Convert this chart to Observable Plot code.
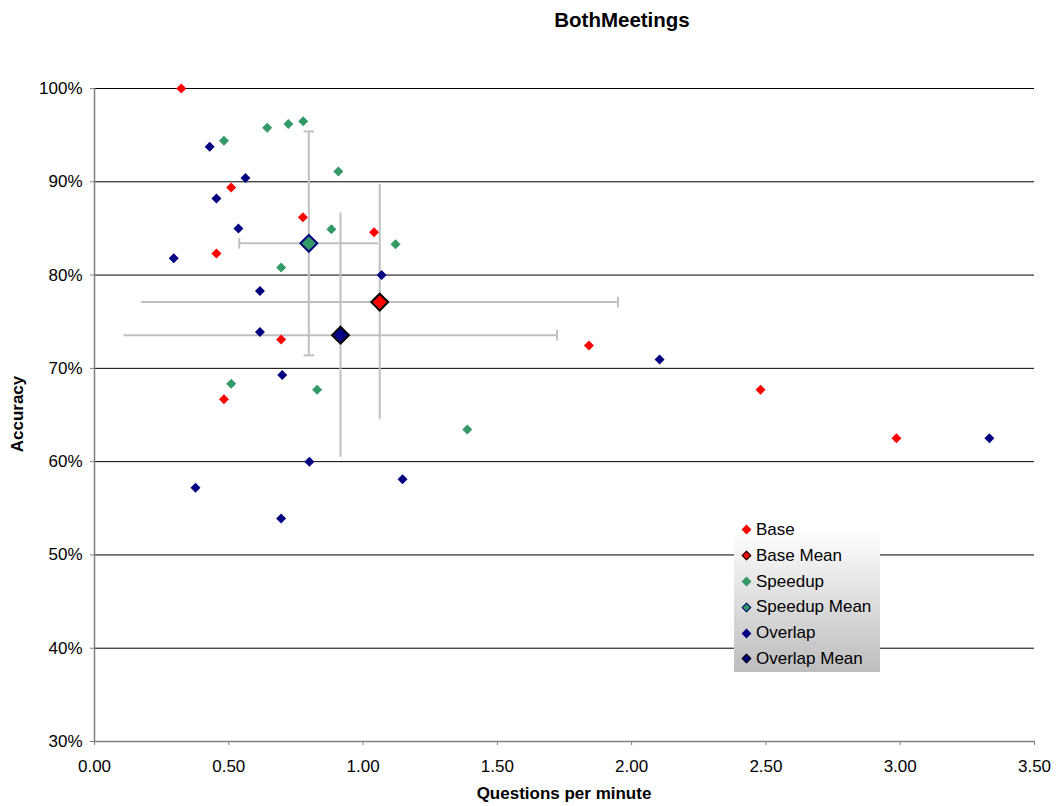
<!DOCTYPE html>
<html>
<head>
<meta charset="utf-8">
<script src="https://cdn.jsdelivr.net/npm/d3@7"></script>
<script src="https://cdn.jsdelivr.net/npm/@observablehq/plot@0.6"></script>
<style>
  html, body { margin: 0; padding: 0; background: #fff; }
  body { font-family: "Liberation Sans", Arial, sans-serif; }
  #wrap { position: relative; width: 1056px; height: 806px; overflow: hidden; }
  #title { position: absolute; top: 0; left: 622px; transform: translateX(-50%); height: 40px; line-height: 40px; font-weight: bold; font-size: 20.5px; white-space: nowrap; }
  #chart { position: absolute; top: 40px; left: 0; }
  #xlabel { position: absolute; top: 784px; left: 564px; transform: translateX(-50%); font-weight: bold; font-size: 17px; white-space: nowrap; line-height: 20px; }
  #ylabel { position: absolute; left: 18px; top: 414px; transform: translate(-50%, -50%) rotate(-90deg); font-weight: bold; font-size: 17px; white-space: nowrap; line-height: 20px; }
  #legend { position: absolute; left: 734px; top: 517px; width: 146px; height: 155px; background: linear-gradient(to bottom, #ffffff 0%, #ffffff 8%, #bdbdbd 100%); }
  .li { position: relative; height: 25.8px; line-height: 25.8px; font-size: 17px; white-space: nowrap; }
  .li .mk { position: absolute; left: 8.5px; top: 9.4px; width: 7px; height: 7px; transform: rotate(45deg); box-sizing: border-box; }
  .li .tx { position: absolute; left: 22px; top: 0; }
</style>
</head>
<body>
<div id="wrap">
  <div id="title">BothMeetings</div>
  <div id="chart"></div>
  <div id="xlabel">Questions per minute</div>
  <div id="ylabel">Accuracy</div>
  <div id="legend"></div>
</div>
<script>
// ---- data ----
const baseX = [0.323, 0.509, 0.454, 0.776, 1.041, 0.695, 0.482, 1.841, 2.480, 2.986];
const baseY = [1.000, 0.894, 0.823, 0.862, 0.846, 0.731, 0.667, 0.7245, 0.677, 0.625];

const speedupX = [0.643, 0.722, 0.777, 0.482, 0.908, 0.882, 1.121, 0.695, 0.509, 0.829, 1.388];
const speedupY = [0.958, 0.962, 0.965, 0.944, 0.911, 0.849, 0.833, 0.808, 0.6835, 0.677, 0.6345];

const overlapX = [0.429, 0.562, 0.454, 0.536, 0.295, 1.069, 0.616, 0.616, 0.699, 2.104, 0.800, 1.147, 0.376, 0.695, 3.332];
const overlapY = [0.9375, 0.904, 0.882, 0.850, 0.818, 0.800, 0.783, 0.739, 0.693, 0.7095, 0.600, 0.581, 0.572, 0.539, 0.625];

const meanNames = ["Base Mean", "Speedup Mean", "Overlap Mean"];
const meanX = [1.062, 0.798, 0.916];
const meanY = [0.771, 0.834, 0.7356];
const meanErrX = [0.887, 0.259, 0.806];
const meanErrY = [0.126, 0.120, 0.131];
const meanCaps = [["right"], ["left", "top", "bottom"], ["right"]];

const seriesNames = ["Base", "Speedup", "Overlap"];
const seriesColors = ["#ff0000", "#339966", "#000080"];
const meanStrokes = ["#000000", "#000080", "#000000"];

const xTicks = [0, 0.5, 1, 1.5, 2, 2.5, 3, 3.5];
const yTicks = [0.3, 0.4, 0.5, 0.6, 0.7, 0.8, 0.9, 1.0];

// ---- build tables ----
const pts = (xs, ys) => xs.map((x, i) => ({x, y: ys[i]}));
const seriesPts = [pts(baseX, baseY), pts(speedupX, speedupY), pts(overlapX, overlapY)];
const means = meanNames.map((name, i) => ({
  name, x: meanX[i], y: meanY[i], ex: meanErrX[i], ey: meanErrY[i],
  fill: seriesColors[i], stroke: meanStrokes[i]
}));
const capsV = [], capsH = [];
means.forEach((m, i) => {
  meanCaps[i].forEach(end => {
    if (end === "left") capsV.push({x: m.x - m.ex, y: m.y});
    if (end === "right") capsV.push({x: m.x + m.ex, y: m.y});
    if (end === "top") capsH.push({x: m.x, y: m.y + m.ey});
    if (end === "bottom") capsH.push({x: m.x, y: m.y - m.ey});
  });
});

const capVertical = {draw(ctx, size) { const h = Math.sqrt(size / Math.PI); ctx.moveTo(0, -h); ctx.lineTo(0, h); }};
const capHorizontal = {draw(ctx, size) { const h = Math.sqrt(size / Math.PI); ctx.moveTo(-h, 0); ctx.lineTo(h, 0); }};

const errColor = "#c0c0c0";
const marks = [
  Plot.ruleY(yTicks.filter(v => v > 0.3), {stroke: "#000000", strokeWidth: 1}),
  Plot.ruleX([0], {stroke: "#808080", strokeWidth: 1.5}),
  Plot.ruleY([0.3], {stroke: "#808080", strokeWidth: 1.5}),
  Plot.axisX({ticks: xTicks, tickFormat: d3.format(".2f"), tickSize: 4, tickPadding: 14, label: null, stroke: "#808080", fill: "#000"}),
  Plot.axisY({ticks: yTicks, tickFormat: d3.format(".0%"), tickSize: 4, tickPadding: 8, label: null, stroke: "#808080", fill: "#000"}),
  // error bars
  Plot.ruleY(means, {y: "y", x1: d => d.x - d.ex, x2: d => d.x + d.ex, stroke: errColor, strokeWidth: 2}),
  Plot.ruleX(means, {x: "x", y1: d => d.y - d.ey, y2: d => d.y + d.ey, stroke: errColor, strokeWidth: 2}),
  Plot.dot(capsV, {x: "x", y: "y", symbol: capVertical, r: 5.3, fill: "none", stroke: errColor, strokeWidth: 2}),
  Plot.dot(capsH, {x: "x", y: "y", symbol: capHorizontal, r: 5.3, fill: "none", stroke: errColor, strokeWidth: 2})
];
seriesPts.forEach((data, i) => {
  marks.push(Plot.dot(data, {x: "x", y: "y", symbol: "diamond2", r: 4.5, fill: seriesColors[i]}));
});
means.forEach(m => {
  marks.push(Plot.dot([m], {x: "x", y: "y", symbol: "diamond2", r: 7.6, fill: "fill", stroke: "stroke", strokeWidth: 2}));
});

const chart = Plot.plot({
  width: 1056,
  height: 766,
  marginTop: 48,
  marginBottom: 65,
  marginLeft: 94,
  marginRight: 22,
  style: {fontFamily: "'Liberation Sans', Arial, sans-serif", fontSize: "17px", color: "#000", background: "transparent"},
  x: {domain: [0, 3.5]},
  y: {domain: [0.3, 1.0]},
  marks
});
document.getElementById("chart").appendChild(chart);

// ---- legend ----
const legendItems = [];
seriesNames.forEach((n, i) => {
  legendItems.push({label: n, fill: seriesColors[i], stroke: null});
  legendItems.push({label: meanNames[i], fill: seriesColors[i], stroke: meanStrokes[i]});
});
const leg = document.getElementById("legend");
legendItems.forEach(it => {
  const row = document.createElement("div");
  row.className = "li";
  const mk = document.createElement("span");
  mk.className = "mk";
  mk.style.background = it.fill;
  if (it.stroke) mk.style.border = "1.5px solid " + it.stroke;
  const tx = document.createElement("span");
  tx.className = "tx";
  tx.textContent = it.label;
  row.appendChild(mk);
  row.appendChild(tx);
  leg.appendChild(row);
});
</script>
</body>
</html>
